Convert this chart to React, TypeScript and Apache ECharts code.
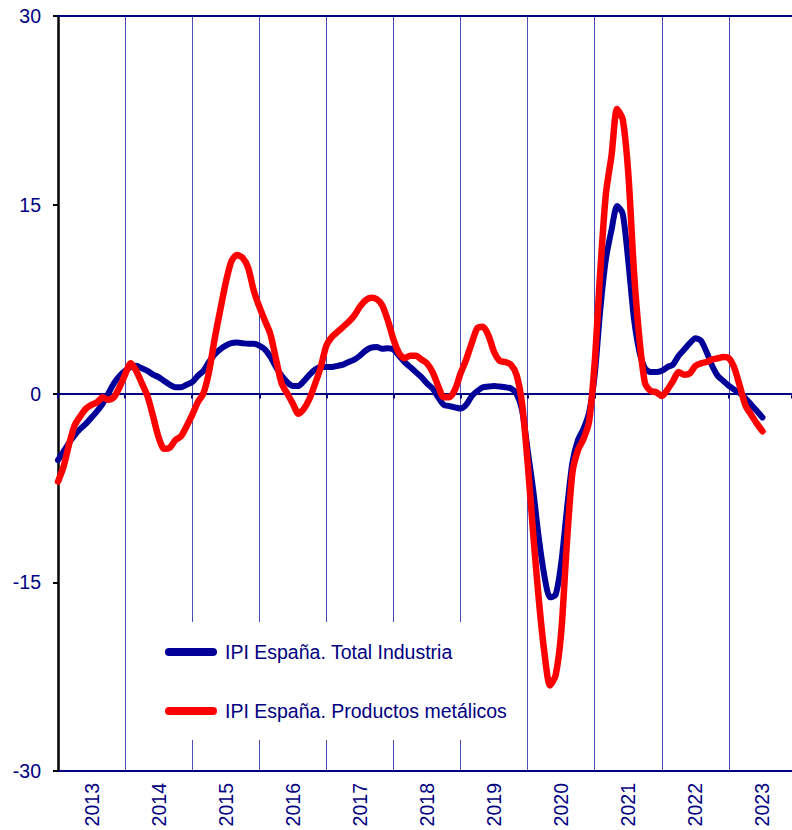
import React, { useEffect, useRef } from "react";
import * as echarts from "echarts";

const START_YEAR = 2013;
const X_MAX = 2023.94;

const yTicks = [-30, -15, 0, 15, 30];

const seriesNames = ["IPI España. Total Industria", "IPI España. Productos metálicos"];

// Monthly values, Jan 2013 .. Jul 2023
const totalIndustria = [
  -5.3, -4.6, -3.9, -3.3, -2.8, -2.4, -1.9, -1.4, -0.8, 0.0, 0.8, 1.4,
  1.8, 2.1, 2.2, 2.0, 1.8, 1.5, 1.3, 1.0, 0.7, 0.5, 0.5, 0.7,
  0.9, 1.4, 1.8, 2.5, 3.1, 3.5, 3.8, 4.0, 4.05, 4.0, 3.95, 3.95,
  3.8, 3.5, 2.9, 2.1, 1.4, 0.9, 0.6, 0.6, 1.0, 1.5, 1.9, 2.1,
  2.1, 2.1, 2.2, 2.3, 2.5, 2.7, 3.0, 3.4, 3.65, 3.7, 3.55, 3.6,
  3.5, 3.0, 2.5, 2.1, 1.7, 1.3, 0.8, 0.4, -0.3, -0.9, -1.0, -1.1,
  -1.2, -0.9, -0.2, 0.2, 0.5, 0.55, 0.6, 0.55, 0.5, 0.4, 0.0, -1.3,
  -4.5, -7.7, -11.5, -14.5, -16.2, -16.0, -13.5, -9.3, -5.5, -3.7, -2.8, -1.5,
  1.5, 6.7, 10.7, 13.0, 14.9, 14.3, 10.5, 6.0, 3.3, 2.0, 1.7, 1.7,
  1.8, 2.1, 2.3, 3.0, 3.5, 4.0, 4.4, 4.2, 3.3, 2.2, 1.4, 1.0,
  0.6, 0.3, 0.0, -0.4, -0.9, -1.4, -1.9,
];

const productosMetalicos = [
  -7.0, -5.8, -4.0, -2.5, -1.8, -1.2, -0.9, -0.7, -0.3, -0.5, -0.3, 0.5,
  1.5, 2.4, 1.8, 0.8, -0.2, -1.8, -3.5, -4.4, -4.3, -3.7, -3.4, -2.6,
  -1.7, -0.7, 0.0, 1.7, 4.3, 6.6, 8.8, 10.5, 11.0, 10.8, 10.0, 8.2,
  6.9, 5.8, 4.7, 2.7, 0.8, 0.0, -0.8, -1.6, -1.2, -0.4, 0.8, 2.1,
  3.8, 4.5, 4.9, 5.3, 5.7, 6.2, 6.9, 7.4, 7.6, 7.5, 7.0, 5.8,
  4.3, 3.2, 2.8, 3.0, 3.0, 2.7, 2.4, 1.7, 0.6, -0.3, -0.3, 0.3,
  1.6, 2.7, 4.0, 5.2, 5.3, 4.6, 3.3, 2.6, 2.5, 2.3, 1.5, -0.8,
  -5.5, -11.2, -16.4, -20.6, -23.2, -22.4, -19.0, -12.0, -6.3, -4.5, -3.6, -2.2,
  2.5, 9.8, 15.9, 18.9, 22.6, 21.8, 17.5, 9.8, 4.3, 0.8, 0.2, 0.1,
  -0.2, 0.3, 1.0, 1.7, 1.5, 1.6, 2.2, 2.4, 2.5, 2.7, 2.8, 2.9,
  2.8, 2.0, 0.5, -1.0, -1.7, -2.4, -3.0,
];

const seriesColors = ["#000099", "#ff0000"];
const NAVY = "#000080";
const GRID_BLUE = "#4b4bb4";
const FONT = "'Liberation Sans', Arial, sans-serif";
const FONT_SIZE = 19.5;

function toPoints(values: number[]) {
  return values.map((v, i) => [START_YEAR + i / 12, v]);
}

export default function App() {
  const ref = useRef<HTMLDivElement>(null);

  useEffect(() => {
    if (!ref.current) return;
    const chart = echarts.init(ref.current, undefined, { renderer: "svg" });

    const baseX = {
      type: "value",
      min: START_YEAR,
      max: X_MAX,
      gridIndex: 0,
    };

    const option: any = {
      animation: false,
      backgroundColor: "#ffffff",
      grid: { left: 58, right: 0, top: 16, bottom: 59, containLabel: false },
      xAxis: [
        {
          ...baseX,
          interval: 1,
          position: "bottom",
          axisLine: { show: true, onZero: false, lineStyle: { color: NAVY, width: 2 } },
          axisTick: { show: false },
          axisLabel: { show: false },
          splitLine: { show: true, lineStyle: { color: GRID_BLUE, width: 1 } },
        },
        {
          ...baseX,
          interval: 0.5,
          position: "bottom",
          axisLine: { show: false, onZero: false },
          axisTick: { show: false },
          splitLine: { show: false },
          axisLabel: {
            show: true,
            rotate: 90,
            margin: 12,
            fontSize: FONT_SIZE,
            fontFamily: FONT,
            color: NAVY,
            formatter: (v: number) => (Math.abs((v % 1) - 0.5) < 1e-6 ? String(Math.floor(v)) : ""),
          },
        },
        {
          ...baseX,
          interval: 1,
          position: "bottom",
          axisLine: { show: true, onZero: true, lineStyle: { color: NAVY, width: 2 } },
          axisTick: { show: true, inside: false, length: 5, lineStyle: { color: NAVY, width: 2 } },
          axisLabel: { show: false },
          splitLine: { show: false },
        },
        {
          ...baseX,
          interval: 1,
          position: "top",
          axisLine: { show: true, onZero: false, lineStyle: { color: NAVY, width: 2 } },
          axisTick: { show: false },
          axisLabel: { show: false },
          splitLine: { show: false },
        },
      ],
      yAxis: {
        type: "value",
        min: yTicks[0],
        max: yTicks[yTicks.length - 1],
        interval: 15,
        axisLine: { show: true, onZero: false, lineStyle: { color: "#000000", width: 2.5 } },
        axisTick: { show: true, inside: false, length: 5, lineStyle: { color: "#000000", width: 2 } },
        axisLabel: { show: true, margin: 17, fontSize: FONT_SIZE, fontFamily: FONT, color: NAVY },
        splitLine: { show: false },
      },
      series: [
        {
          name: seriesNames[0],
          type: "line",
          xAxisIndex: 0,
          data: toPoints(totalIndustria),
          showSymbol: false,
          symbol: "none",
          smooth: 0.25,
          lineStyle: { color: seriesColors[0], width: 6, cap: "round", join: "round" },
          z: 3,
        },
        {
          name: seriesNames[1],
          type: "line",
          xAxisIndex: 0,
          data: toPoints(productosMetalicos),
          showSymbol: false,
          symbol: "none",
          smooth: 0.25,
          lineStyle: { color: seriesColors[1], width: 6.5, cap: "round", join: "round" },
          z: 4,
        },
      ],
      graphic: [
        {
          type: "rect",
          left: 130,
          top: 622,
          shape: { width: 395, height: 118 },
          style: { fill: "#ffffff" },
          z: 10,
        },
        {
          type: "line",
          shape: { x1: 169, y1: 652, x2: 213, y2: 652 },
          style: { stroke: seriesColors[0], lineWidth: 8, lineCap: "round" },
          z: 11,
        },
        {
          type: "text",
          x: 225,
          y: 652,
          style: {
            text: seriesNames[0],
            fill: NAVY,
            fontSize: FONT_SIZE,
            fontFamily: FONT,
            verticalAlign: "middle",
            align: "left",
          },
          z: 11,
        },
        {
          type: "line",
          shape: { x1: 169, y1: 711, x2: 213, y2: 711 },
          style: { stroke: seriesColors[1], lineWidth: 8, lineCap: "round" },
          z: 11,
        },
        {
          type: "text",
          x: 225,
          y: 711,
          style: {
            text: seriesNames[1],
            fill: NAVY,
            fontSize: FONT_SIZE,
            fontFamily: FONT,
            verticalAlign: "middle",
            align: "left",
          },
          z: 11,
        },
      ],
    };

    chart.setOption(option);
    return () => chart.dispose();
  }, []);

  return (
    <div
      ref={ref}
      style={{ position: "absolute", left: 0, top: 0, width: 792, height: 830 }}
    />
  );
}
